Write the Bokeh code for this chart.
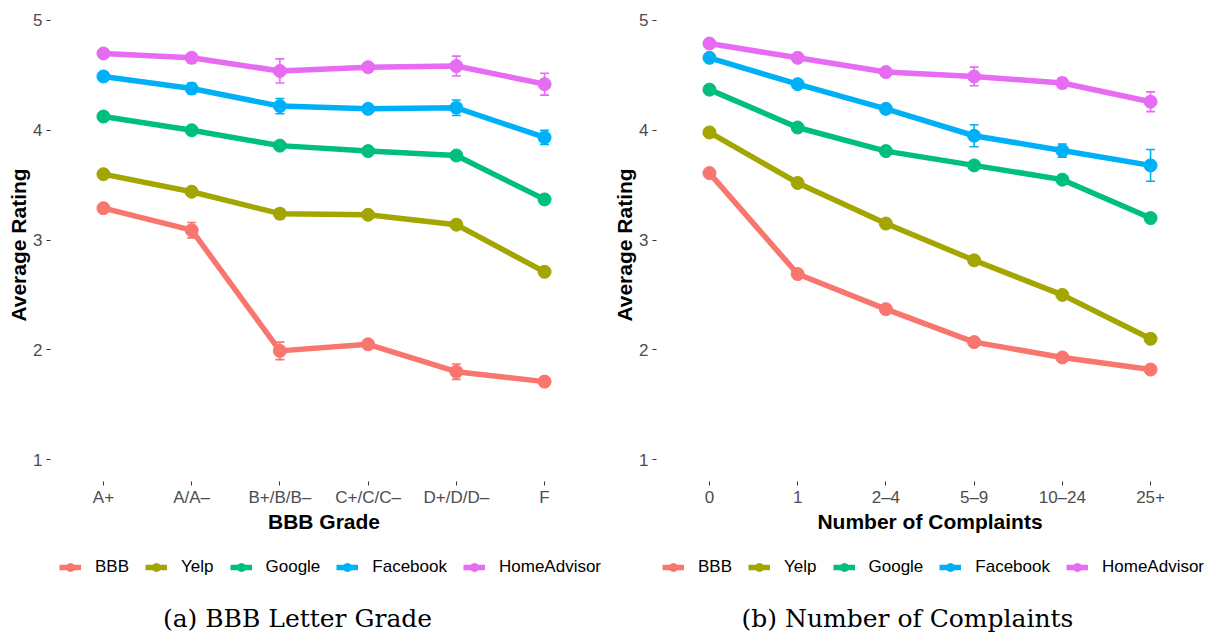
from bokeh.plotting import figure
from bokeh.models import (ColumnDataSource, Whisker, TeeHead, FixedTicker, Legend,
                          LegendItem, Label, Range1d)
from bokeh.layouts import row, column
from bokeh.embed import file_html
from bokeh.resources import INLINE

platforms = ["BBB", "Yelp", "Google", "Facebook", "HomeAdvisor"]
colors = ["#F8766D", "#A3A500", "#00BF7D", "#00B0F6", "#E76BF3"]

# Panel (a): BBB letter grade
grades = ["A+", "A/A\u2013", "B+/B/B\u2013", "C+/C/C\u2013", "D+/D/D\u2013", "F"]
grade_bbb = [3.29, 3.09, 1.99, 2.05, 1.80, 1.71]
grade_yelp = [3.60, 3.44, 3.24, 3.23, 3.14, 2.71]
grade_google = [4.125, 4.00, 3.86, 3.81, 3.77, 3.37]
grade_facebook = [4.49, 4.38, 4.22, 4.195, 4.205, 3.935]
grade_homeadvisor = [4.70, 4.66, 4.54, 4.575, 4.585, 4.42]
grade_bbb_err = [0.02, 0.07, 0.08, 0.04, 0.07, 0.02]
grade_yelp_err = [0.015, 0.03, 0.045, 0.02, 0.04, 0.02]
grade_google_err = [0.01, 0.015, 0.02, 0.015, 0.02, 0.02]
grade_facebook_err = [0.015, 0.05, 0.07, 0.02, 0.07, 0.065]
grade_homeadvisor_err = [0.01, 0.045, 0.11, 0.04, 0.09, 0.10]

# Panel (b): number of complaints
complaints = ["0", "1", "2\u20134", "5\u20139", "10\u201324", "25+"]
comp_bbb = [3.61, 2.69, 2.37, 2.07, 1.93, 1.82]
comp_yelp = [3.98, 3.52, 3.15, 2.815, 2.50, 2.10]
comp_google = [4.37, 4.025, 3.81, 3.68, 3.55, 3.20]
comp_facebook = [4.66, 4.42, 4.195, 3.95, 3.815, 3.68]
comp_homeadvisor = [4.79, 4.66, 4.53, 4.49, 4.43, 4.26]
comp_bbb_err = [0.015, 0.04, 0.02, 0.035, 0.02, 0.02]
comp_yelp_err = [0.015, 0.02, 0.025, 0.04, 0.02, 0.03]
comp_google_err = [0.01, 0.015, 0.015, 0.02, 0.02, 0.025]
comp_facebook_err = [0.01, 0.02, 0.02, 0.10, 0.06, 0.145]
comp_homeadvisor_err = [0.01, 0.02, 0.035, 0.085, 0.045, 0.09]

y_ticks = [1, 2, 3, 4, 5]

SANS = "Liberation Sans"
FRAME_H = 473
MAIN_BOTTOM = 60
LEG_H = 632 - 8 - FRAME_H - MAIN_BOTTOM


def make_panel(cats, series, errs, xlabel, border_left, border_right):
    n = len(cats)
    xs = list(range(n))
    p = figure(frame_width=547, frame_height=FRAME_H, output_backend="svg",
               toolbar_location=None,
               x_range=Range1d(-0.6, n - 1 + 0.6), y_range=Range1d(0.8, 5.1093),
               min_border_left=border_left, min_border_right=border_right,
               min_border_top=8, min_border_bottom=MAIN_BOTTOM)
    p.outline_line_color = None
    p.xgrid.visible = False
    p.ygrid.visible = False
    p.background_fill_color = "white"
    p.border_fill_color = "white"

    for name, col, ys, es in zip(platforms, colors, series, errs):
        src = ColumnDataSource(dict(x=xs, y=ys,
                                    lower=[a - b for a, b in zip(ys, es)],
                                    upper=[a + b for a, b in zip(ys, es)]))
        w = Whisker(source=src, base="x", lower="lower", upper="upper",
                    line_color=col, line_width=1.6,
                    upper_head=TeeHead(size=9, line_color=col, line_width=1.6),
                    lower_head=TeeHead(size=9, line_color=col, line_width=1.6),
                    level="underlay")
        p.add_layout(w)
        p.line("x", "y", source=src, line_color=col, line_width=5.5,
               line_cap="round", line_join="round")
        p.scatter("x", "y", source=src, size=13, fill_color=col, line_color=col)

    p.xaxis.ticker = FixedTicker(ticks=xs)
    p.xaxis.major_label_overrides = {i: c for i, c in enumerate(cats)}
    p.yaxis.ticker = FixedTicker(ticks=y_ticks)
    for ax in (p.xaxis, p.yaxis):
        ax.axis_line_color = None
        ax.minor_tick_line_color = None
        ax.major_tick_line_color = "#333333"
        ax.major_tick_line_width = 1
        ax.major_tick_in = 0
        ax.major_tick_out = 4
        ax.major_label_text_font = SANS
        ax.major_label_text_font_size = "17px"
        ax.major_label_text_color = "#4D4D4D"
        ax.axis_label_text_font = SANS
        ax.axis_label_text_font_size = "21px"
        ax.axis_label_text_font_style = "bold"
        ax.axis_label_text_color = "black"
    p.xaxis.axis_label = xlabel
    p.xaxis.major_label_standoff = 2
    p.xaxis.axis_label_standoff = 0
    p.yaxis.axis_label = "Average Rating"
    p.yaxis.major_label_standoff = 4
    p.yaxis.axis_label_standoff = 0
    return p


def make_footer(cats, series, caption, width, leg_x, cap_x):
    # Legend strip under each panel; the key renderers hold the same series,
    # but this strip's x range lies outside the category positions so only
    # the legend keys are visible.
    xs = list(range(len(cats)))
    f = figure(width=width, height=LEG_H, output_backend="svg",
               toolbar_location=None,
               x_range=Range1d(-3, -2), y_range=Range1d(0, 1),
               x_axis_type=None, y_axis_type=None,
               min_border_left=0, min_border_right=0, min_border_top=0,
               min_border_bottom=0)
    f.outline_line_color = None
    f.xgrid.visible = False
    f.ygrid.visible = False
    f.border_fill_color = "white"
    f.background_fill_color = "white"
    items = []
    for name, col, ys in zip(platforms, colors, series):
        lr = f.line(x=xs, y=ys, line_color=col, line_width=5.5)
        sr = f.scatter(x=xs, y=ys, size=13, fill_color=col, line_color=col)
        items.append(LegendItem(label=name, renderers=[lr, sr]))
    legend = Legend(items=items, orientation="horizontal", location=(leg_x, LEG_H - 36),
                    border_line_color=None, background_fill_alpha=0,
                    label_text_font=SANS, label_text_font_size="17px",
                    label_text_color="black", label_height=20,
                    glyph_width=22, glyph_height=20, label_standoff=14,
                    spacing=16, padding=0, margin=0)
    f.add_layout(legend, "center")
    f.add_layout(Label(x=cap_x, y=14, x_units="screen", y_units="screen",
                       text=caption, text_align="center", text_baseline="middle",
                       text_font="DejaVu Serif", text_font_size="25px",
                       text_color="black"))
    return f


grade_series = [grade_bbb, grade_yelp, grade_google, grade_facebook, grade_homeadvisor]
comp_series = [comp_bbb, comp_yelp, comp_google, comp_facebook, comp_homeadvisor]

p1 = make_panel(grades, grade_series,
                [grade_bbb_err, grade_yelp_err, grade_google_err, grade_facebook_err,
                 grade_homeadvisor_err],
                "BBB Grade", 50, 13)
p2 = make_panel(complaints, comp_series,
                [comp_bbb_err, comp_yelp_err, comp_google_err, comp_facebook_err,
                 comp_homeadvisor_err],
                "Number of Complaints", 42, 4)
f1 = make_footer(grades, grade_series, "(a) BBB Letter Grade", 610, 59, 297)
f2 = make_footer(complaints, comp_series, "(b) Number of Complaints", 597, 52, 297)

layout = column(row(p1, p2), row(f1, f2))
open("out.html", "w").write(file_html(layout, INLINE))
